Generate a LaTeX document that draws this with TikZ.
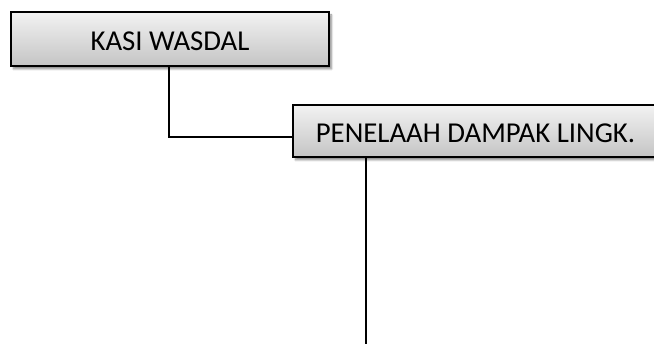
\documentclass[tikz,border=0pt]{standalone}
\usepackage{fontspec}
\setmainfont{Carlito}
\usepackage{tikz}
\usetikzlibrary{
    shadows.blur,
    calc,
    positioning
}

\tikzset{
    jabatan/.style={draw=black, line width=1.6pt, top color=black!5, bottom color=black!23,
        font=\fontsize{28.8}{34}\selectfont, inner sep=0pt, text height=25pt, text depth=1pt,
        blur shadow={shadow xshift=2.5pt, shadow yshift=-3pt, shadow blur steps=6, shadow opacity=45}},
    garis/.style={line width=1.8pt, black}
}

\begin{document}
\begin{tikzpicture}[x=1pt, y=-1pt]
                        \useasboundingbox (0, 0) rectangle (654, 344);

                        \node[jabatan, minimum width=318pt, minimum height=54pt] (kasi) at (170, 39) {KASI WASDAL};
                        \node[jabatan, minimum width=365pt, minimum height=52pt] (penelaah) at (475.5, 131) {PENELAAH DAMPAK LINGK.};

                        \coordinate (bawah) at (366, 344);

                        \draw[garis] ([xshift=-1pt]kasi.south) |- ([yshift=-6pt]penelaah.west);
                        \draw[garis] (penelaah.south -| bawah) -- (bawah);
                    \end{tikzpicture}
\end{document}
